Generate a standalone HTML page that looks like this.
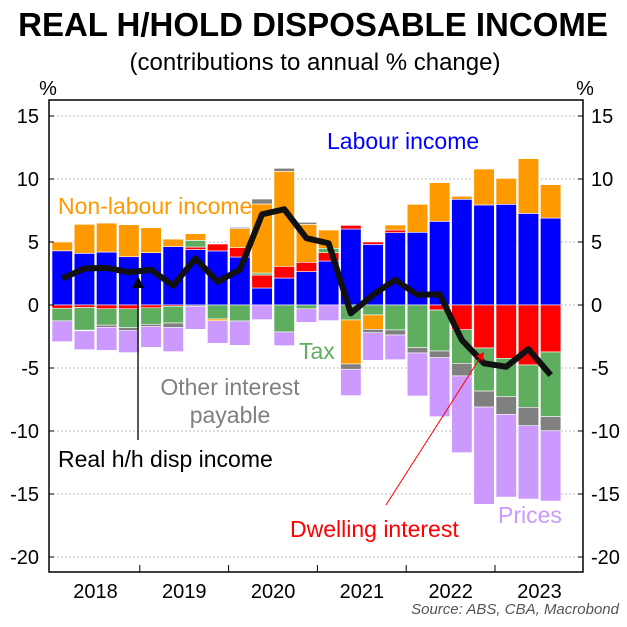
<!DOCTYPE html>
<html><head><meta charset="utf-8"><style>
body{margin:0;background:#fff;}
svg text{font-family:"Liberation Sans",sans-serif;}
</style></head><body>
<svg id="chart" width="627" height="622" xmlns="http://www.w3.org/2000/svg">
<text x="313" y="36" text-anchor="middle" font-size="33" font-weight="bold">REAL H/HOLD DISPOSABLE INCOME</text>
<text x="315" y="70" text-anchor="middle" font-size="24">(contributions to annual % change)</text>
<text x="48" y="95" text-anchor="middle" font-size="20">%</text>
<text x="585" y="95" text-anchor="middle" font-size="20">%</text>
<g id="grid"></g><g id="bars"></g><g id="line"></g><g id="axes"></g>
<text x="327" y="149" font-size="23" fill="#0000ff">Labour income</text>
<text x="58" y="214" font-size="23" fill="#ff9900">Non-labour income</text>
<text x="299" y="359" font-size="23" fill="#5fae5f">Tax</text>
<text x="230" y="395" font-size="23" fill="#808080" text-anchor="middle">Other interest</text>
<text x="230" y="423" font-size="23" fill="#808080" text-anchor="middle">payable</text>
<text x="58" y="467" font-size="23" fill="#000">Real h/h disp income</text>
<line x1="138" y1="440" x2="138" y2="285" stroke="#000" stroke-width="1.3"/>
<polygon points="132,288 144,288 138,276" fill="#000"/>
<text x="290" y="537" font-size="23" fill="#ff0000">Dwelling interest</text>
<line x1="386" y1="505" x2="480" y2="358" stroke="#ff0000" stroke-width="1"/>
<polygon points="484,352 476,356 483,361" fill="#ff0000"/>
<text x="498" y="523" font-size="23" fill="#cc99ff">Prices</text>
<text x="619" y="614" text-anchor="end" font-size="15" font-style="italic" fill="#555">Source: ABS, CBA, Macrobond</text>
</svg>
<script>
const quarters=["2018Q1","2018Q2","2018Q3","2018Q4","2019Q1","2019Q2","2019Q3","2019Q4","2020Q1","2020Q2","2020Q3","2020Q4","2021Q1","2021Q2","2021Q3","2021Q4","2022Q1","2022Q2","2022Q3","2022Q4","2023Q1","2023Q2","2023Q3"];
const labour=[4.3,4.1,4.2,3.83,4.15,4.63,4.4,4.29,3.81,1.35,2.14,2.65,3.49,6.03,4.81,5.74,5.77,6.64,8.39,7.94,7.99,7.27,6.9];
const dwelling=[-0.26,-0.2,-0.3,-0.3,-0.22,-0.1,0.2,0.55,0.74,1.03,0.93,0.74,0.66,0.29,0.19,0.21,0,-0.4,-1.96,-3.41,-4.23,-4.76,-3.73];
const tax=[-1.0,-1.8,-1.3,-1.5,-1.31,-1.33,0.53,-1.11,-1.27,0.16,-2.14,-0.3,0.35,-1.19,-0.79,-1.98,-3.39,-3.25,-2.67,-3.42,-3.05,-3.36,-5.13];
const nonLabour=[0.7,2.3,2.3,2.54,1.98,0.6,0.53,-0.14,1.51,5.48,7.54,3.01,1.45,-3.49,-1.14,0.4,2.22,3.07,0.24,2.85,2.06,4.34,2.65];
const otherInterest=[0,-0.05,-0.17,-0.24,-0.19,-0.34,-0.1,0,0.1,0.39,0.24,0.16,0,-0.42,-0.27,-0.4,-0.42,-0.53,-1.0,-1.27,-1.4,-1.46,-1.12];
const prices=[-1.65,-1.5,-1.83,-1.74,-1.64,-1.93,-1.83,-1.79,-1.93,-1.16,-1.09,-1.08,-1.24,-2.09,-2.19,-1.96,-3.41,-4.68,-6.09,-7.72,-6.56,-5.82,-5.58];
const realIncome=[2.1,2.9,2.95,2.6,2.8,1.53,3.7,1.85,2.8,7.2,7.6,5.3,4.9,-0.66,0.8,2.0,0.8,0.85,-2.78,-4.63,-4.9,-3.5,-5.56];
const yTicks=[15,10,5,0,-5,-10,-15,-20];
const years=["2018","2019","2020","2021","2022","2023"];
const series=[[labour,"#0000ff","labour"],[dwelling,"#ff0000","dwelling-interest"],[tax,"#5fae5f","tax"],[nonLabour,"#ff9900","non-labour"],[otherInterest,"#808080","other-interest"],[prices,"#cc99ff","prices"]];
const L=49,R=583,T=100,B=572;
const y=v=>305-v*12.6;
const x=i=>L+3+i*22.2;
const NS="http://www.w3.org/2000/svg";
function mk(p,t,a){const e=document.createElementNS(NS,t);for(const k in a)e.setAttribute(k,a[k]);document.getElementById(p).appendChild(e);return e;}
yTicks.forEach(t=>{
 const g=mk("grid","line",{x1:L,x2:R,y1:y(t),y2:y(t),stroke:"#bbb","stroke-dasharray":"2,2"});
 
 
 const a=mk("axes","text",{x:39,y:y(t)+7,"text-anchor":"end","font-size":20});a.textContent=t;
 
 
 const b=mk("axes","text",{x:591,y:y(t)+7,"font-size":20});b.textContent=t;
 
 
 mk("axes","line",{x1:L,x2:L+5,y1:y(t),y2:y(t),stroke:"#000"});
 mk("axes","line",{x1:R-5,x2:R,y1:y(t),y2:y(t),stroke:"#000"});
});
quarters.forEach((q,i)=>{
 let pos=0,neg=0;
 series.forEach(([arr,col,nm])=>{
  const v=arr[i];if(!v)return;
  let y0,y1;
  if(v>0){y0=pos;pos+=v;y1=pos;}else{y0=neg;neg+=v;y1=neg;}
  const top=Math.min(y(y0),y(y1)),h=Math.abs(y(y0)-y(y1));
  const r=mk("bars","rect",{x:x(i),y:top,width:20.5,height:h,fill:col,stroke:"#fff","stroke-width":0.6});
  
  
 });
});
const pts=realIncome.map((v,i)=>(x(i)+10.25)+","+y(v)).join(" ");
const pl=mk("line","polyline",{points:pts,fill:"none",stroke:"#111","stroke-width":6,"stroke-linejoin":"round"});


const fr=mk("axes","rect",{x:L,y:T,width:R-L,height:B-T,fill:"none",stroke:"#000","stroke-width":1.5});


years.forEach((yr,k)=>{
 const cx=x(4*k)+43.5;
 const t=mk("axes","text",{x:cx,y:598,"text-anchor":"middle","font-size":20});t.textContent=yr;
 
 
 if(k>0)mk("axes","line",{x1:x(4*k)-1,x2:x(4*k)-1,y1:B-7,y2:B,stroke:"#000"});
});
</script>
</body></html>
